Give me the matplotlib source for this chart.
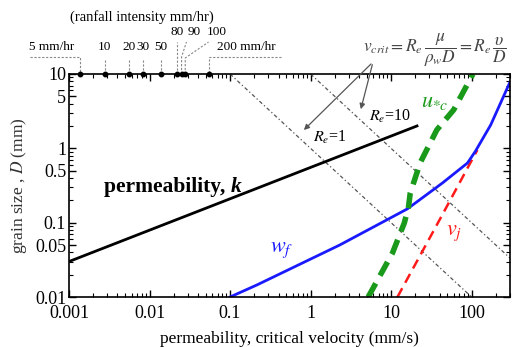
import numpy as np
import matplotlib as mpl; mpl.use("Agg")
import matplotlib.pyplot as plt
from matplotlib.ticker import LogLocator, FixedLocator, FixedFormatter, NullFormatter

mpl.rcParams.update({"font.family": "serif", "font.serif": ["Liberation Serif", "DejaVu Serif"],
                     "mathtext.fontset": "stix", "xtick.direction": "in", "ytick.direction": "in"})

# permeability k (mm/s) vs grain size D (mm)
k_v = [0.001, 21.0]
k_D = [0.03, 2.0]
# settling velocity w_f
wf_v = [0.1, 0.215, 2.3, 15.9, 43.5, 89.0, 112.0, 173.0, 300.0]
wf_D = [0.01, 0.0145, 0.05, 0.153, 0.342, 0.635, 0.92, 2.07, 7.8]
# critical friction velocity u*c
uc_v = [5.2, 10.4, 14.6, 16.5, 17.3, 23.0, 37.0, 60.0, 104.0]
uc_D = [0.01, 0.039, 0.099, 0.165, 0.25, 0.64, 1.77, 3.3, 10.0]
# v_j
vj_v = [12.0, 42.0, 92.0, 118.0]
vj_D = [0.01, 0.12, 0.58, 0.95]
# Reynolds lines
re1_v, re1_D = [0.1, 100.0], [10.0, 0.01]
re10_v, re10_D = [1.0, 1000.0], [10.0, 0.01]
# rainfall intensity marks (mm/hr) on the top axis
rain = [5, 10, 20, 30, 50, 80, 90, 100, 200]
rain_v = [r / 3600.0 for r in rain]

W, H = 512, 347
fig = plt.figure(figsize=(W / 100, H / 100), dpi=100)
ax = fig.add_axes([69 / W, (H - 297) / H, (510 - 69) / W, 223 / H])
ax.set_xscale("log"); ax.set_yscale("log")
ax.set_xlim(0.001, 300); ax.set_ylim(0.01, 10)

ax.plot(re1_v, re1_D, color="#555555", lw=0.9, ls=(0, (3, 2, 1, 2)))
ax.plot(re10_v, re10_D, color="#555555", lw=0.9, ls=(0, (3, 2, 1, 2)))
ax.plot(k_v, k_D, color="black", lw=2.0)
ax.plot(vj_v, vj_D, color="#ff1a1a", lw=1.8, ls=(0, (4, 2.5)))
ax.plot(wf_v, wf_D, color="#1a1aff", lw=2.0)
ax.plot(uc_v, uc_D, color="#1a9a1a", lw=4.0, ls=(0, (2.8, 1.6)), solid_capstyle="round")

# ticks
for a in ("x", "y"):
    ax.tick_params(axis=a, which="major", length=5, width=1.0, top=True, right=True, labelsize=13)
    ax.tick_params(axis=a, which="minor", length=3, width=0.8, top=True, right=True)
ax.tick_params(axis="x", which="major", pad=6)
ax.tick_params(axis="y", which="major", pad=2)
ax.xaxis.set_major_locator(FixedLocator([0.001, 0.01, 0.1, 1, 10, 100]))
ax.xaxis.set_major_formatter(FixedFormatter(["0.001", "0.01", "0.1", "1", "10", "100"]))
ax.xaxis.set_minor_locator(LogLocator(base=10, subs=np.arange(2, 10)))
ax.xaxis.set_minor_formatter(NullFormatter())
ax.yaxis.set_major_locator(FixedLocator([0.01, 0.05, 0.1, 0.5, 1, 5, 10]))
ax.yaxis.set_major_formatter(FixedFormatter(["0.01", "0.05", "0.1", "0.5", "1", "5", "10"]))
ax.yaxis.set_minor_locator(LogLocator(base=10, subs=np.arange(2, 10)))
ax.yaxis.set_minor_formatter(NullFormatter())
for s in ax.spines.values():
    s.set_linewidth(1.2)

ax.set_xlabel("permeability, critical velocity (mm/s)", fontsize=12.5, labelpad=6)
ax.set_ylabel(r"grain size , $\mathit{D}$ (mm)", fontsize=12.5, color="#333333", labelpad=4)


def fy(py):
    return (297 - py) / 223.0


def vx(px):
    return 10 ** (-3 + (px - 69) / 80.2)


# curve labels
ax.text(vx(230), 0.30, "permeability, ", fontsize=15.5, fontweight="bold", ha="right", va="center")
ax.text(vx(230), 0.30, "k", fontsize=15.5, fontweight="bold", fontstyle="italic", ha="left", va="center")
ax.text(0.44, 0.043, r"$w_f$", fontsize=16, color="#1a1aff", ha="center", va="center")
ax.text(61, 0.073, r"$v_j$", fontsize=16, color="#ff1a1a", ha="center", va="center")
ax.text(34.6, 4.1, r"$u_{*c}$", fontsize=16, color="#1a9a1a", ha="center", va="center")
ax.text(1.75, 1.38, r"$R_e$=1", fontsize=11.5, ha="center", va="center")
ax.text(9.8, 2.65, r"$R_e$=10", fontsize=11.5, ha="center", va="center")

# formula and arrows
fig.text(363 / W, (H - 50) / H, r"$v_{crit}=R_e\,\dfrac{\mu}{\rho_w D}=R_e\,\dfrac{\upsilon}{D}$",
         fontsize=12.5, color="#444444", ha="left", va="center")
for tip in [(0.78, 1.66), (4.13, 3.09)]:
    ax.annotate("", xy=tip, xycoords="data", xytext=(373, H - 62), textcoords="figure pixels",
                arrowprops=dict(arrowstyle="-|>", color="#555555", lw=0.9, mutation_scale=8),
                annotation_clip=False)

# rainfall intensity marks on top
tr = ax.get_xaxis_transform()
ax.plot(rain_v, [1.0] * len(rain_v), "o", color="black", ms=3.2, transform=tr, clip_on=False, zorder=5)

dash = dict(color="#888888", lw=0.8, ls=(0, (2, 1.5)), transform=tr, clip_on=False)
ax.text(vx(142), fy(17), "(ranfall intensity mm/hr)", transform=tr, fontsize=10.5,
        ha="center", va="center")
# 5 mm/hr
ax.text(vx(52), fy(47), "5 mm/hr", transform=tr, fontsize=9.5, ha="center", va="center")
ax.plot([vx(30), rain_v[0], rain_v[0]], [fy(57), fy(57), 1.0], **dash)
# 10..50
for r, v in zip(rain[1:5], rain_v[1:5]):
    ax.text(v, fy(47), str(r), transform=tr, fontsize=9.5, ha="center", va="center")
    ax.plot([v, v], [fy(60), 1.0], **dash)
# 80, 90, 100
lab_px = [177, 194, 216]
bend = [42, 57, 58]
for r, v, lx, b in zip(rain[5:8], rain_v[5:8], lab_px, bend):
    ax.text(vx(lx), fy(32), str(r), transform=tr, fontsize=9.5, ha="center", va="center")
    ax.plot([v, v, vx(lx - 8 if r != 80 else lx)], [1.0, fy(b), fy(42)], **dash)
# 200 mm/hr
ax.text(vx(246), fy(47), "200 mm/hr", transform=tr, fontsize=9.5, ha="center", va="center")
ax.plot([vx(280), rain_v[8], rain_v[8]], [fy(57), fy(57), 1.0], **dash)

fig.savefig("out.png", dpi=100)
